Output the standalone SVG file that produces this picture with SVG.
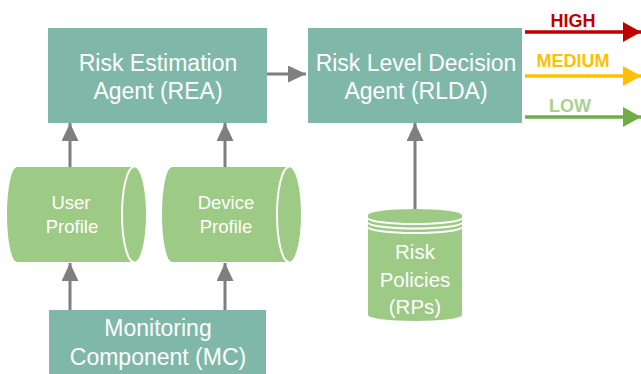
<svg xmlns="http://www.w3.org/2000/svg" width="641" height="374" viewBox="0 0 641 374">
<style>
.box{fill:#7FB8A8;}
.cyl{fill:#9DCA85;}
.cap{fill:none;stroke:#FFFFFF;stroke-width:2;}
.t{font-family:"Liberation Sans",Arial,sans-serif;fill:#FFFFFF;text-anchor:middle;}
.big{font-size:23px;}
.mid{font-size:18.5px;}
.pol{font-size:20.5px;}
.conn{stroke:#7F7F7F;stroke-width:3;fill:none;}
.lbl{font-family:"Liberation Sans",Arial,sans-serif;font-weight:bold;font-size:18px;text-anchor:middle;}
</style>
<defs>
<marker id="ah" viewBox="0 0 18 17" refX="18" refY="8.5" markerWidth="18" markerHeight="17" markerUnits="userSpaceOnUse" orient="auto">
<path d="M0,0 L18,8.5 L0,17 Z" fill="#7F7F7F"/>
</marker>
<marker id="ahR" viewBox="0 0 18 20" refX="18" refY="10" markerWidth="18" markerHeight="20" markerUnits="userSpaceOnUse" orient="auto">
<path d="M0,0 L18,10 L0,20 Z" fill="#C00000"/>
</marker>
<marker id="ahY" viewBox="0 0 18 20" refX="18" refY="10" markerWidth="18" markerHeight="20" markerUnits="userSpaceOnUse" orient="auto">
<path d="M0,0 L18,10 L0,20 Z" fill="#FFC000"/>
</marker>
<marker id="ahG" viewBox="0 0 18 20" refX="18" refY="10" markerWidth="18" markerHeight="20" markerUnits="userSpaceOnUse" orient="auto">
<path d="M0,0 L18,10 L0,20 Z" fill="#70AD47"/>
</marker>
</defs>

<g id="connectors">
<line class="conn" x1="267" y1="74" x2="306" y2="74" marker-end="url(#ah)"/>
<line class="conn" x1="70" y1="167" x2="70" y2="123" marker-end="url(#ah)"/>
<line class="conn" x1="225" y1="167" x2="225" y2="123" marker-end="url(#ah)"/>
<line class="conn" x1="70" y1="310" x2="70" y2="263" marker-end="url(#ah)"/>
<line class="conn" x1="225" y1="310" x2="225" y2="263" marker-end="url(#ah)"/>
<line class="conn" x1="415" y1="210" x2="415" y2="123" marker-end="url(#ah)"/>
<line x1="525" y1="32" x2="641" y2="32" stroke="#C00000" stroke-width="3.5" marker-end="url(#ahR)"/>
<line x1="525" y1="76" x2="641" y2="76" stroke="#FFC000" stroke-width="3.5" marker-end="url(#ahY)"/>
<line x1="525" y1="117" x2="641" y2="117" stroke="#70AD47" stroke-width="3.5" marker-end="url(#ahG)"/>
<text class="lbl" x="573" y="27" fill="#C00000">HIGH</text>
<text class="lbl" x="573" y="67" fill="#FFC000">MEDIUM</text>
<text class="lbl" x="570" y="112" fill="#A9D18E">LOW</text>
</g>

<g id="rea">
<rect class="box" x="48" y="28" width="219" height="95"/>
<text class="t big" x="158" y="71">Risk Estimation</text>
<text class="t big" x="158" y="99">Agent (REA)</text>
</g>

<g id="rlda">
<rect class="box" x="308" y="28" width="214" height="95"/>
<text class="t big" x="416" y="71">Risk Level Decision</text>
<text class="t big" x="416" y="99">Agent (RLDA)</text>
</g>

<g id="user-profile">
<path class="cyl" d="M17,167 L134,167 A12,47.5 0 0 1 134,262 L17,262 A10,47.5 0 0 1 17,167 Z"/>
<path class="cap" d="M134,167 A12,47.5 0 0 0 134,262"/>
<text class="t mid" x="71" y="209">User</text>
<text class="t mid" x="72" y="233">Profile</text>
</g>

<g id="device-profile">
<path class="cyl" d="M172,167 L289,167 A12,47.5 0 0 1 289,262 L172,262 A10,47.5 0 0 1 172,167 Z"/>
<path class="cap" d="M289,167 A12,47.5 0 0 0 289,262"/>
<text class="t mid" x="226" y="209">Device</text>
<text class="t mid" x="226" y="233">Profile</text>
</g>

<g id="risk-policies">
<path class="cyl" d="M368,215 A47,6 0 0 1 462,215 L462,315 A47,6 0 0 1 368,315 Z"/>
<path class="cap" d="M368,218 A47,6 0 0 0 462,218"/>
<path class="cap" d="M368,222.5 A47,6 0 0 0 462,222.5"/>
<path class="cap" d="M368,227 A47,6 0 0 0 462,227"/>
<text class="t pol" x="415" y="259">Risk</text>
<text class="t pol" x="415" y="287">Policies</text>
<text class="t pol" x="415" y="314">(RPs)</text>
</g>

<g id="mc">
<rect class="box" x="49" y="310" width="217" height="64"/>
<text class="t big" x="158" y="336">Monitoring</text>
<text class="t big" x="158" y="365">Component (MC)</text>
</g>
</svg>
